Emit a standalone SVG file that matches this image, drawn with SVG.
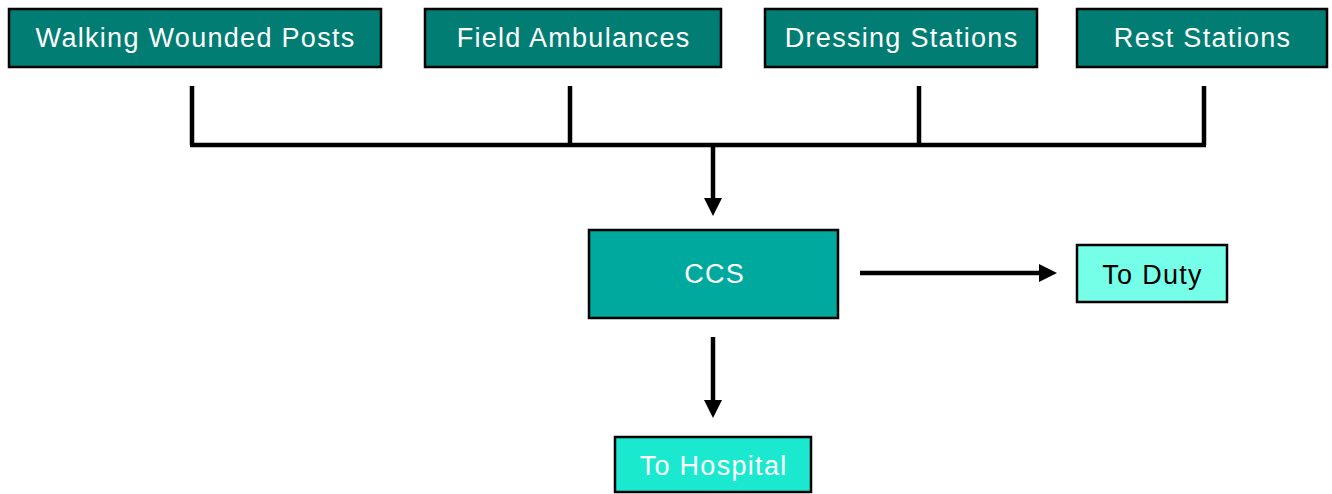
<svg xmlns="http://www.w3.org/2000/svg" width="1332" height="494" viewBox="0 0 1332 494">
<style>
.box{stroke:#000;stroke-width:2.5}
.dark{fill:#017D74}
.t{font-family:"Liberation Sans",Arial,sans-serif;font-size:27px;letter-spacing:1.3px;text-anchor:middle}
.w{fill:#fff}
.k{fill:#000}
.ln{stroke:#000;stroke-width:4.5;fill:none}
</style>
<defs>
<marker id="ah" markerUnits="userSpaceOnUse" markerWidth="18" markerHeight="18" refX="6" refY="9" orient="auto" viewBox="0 0 18 18">
<path d="M0,0 L18,9 L0,18 Z" fill="#000"/>
</marker>
</defs>
<rect width="1332" height="494" fill="#fff"/>
<g id="connectors">
<path class="ln" d="M192,86 V145 M570,86 V145 M919,86 V145 M1204,86 V145 M190,145 H1206"/>
<path class="ln" d="M713,147 V204" marker-end="url(#ah)"/>
<path class="ln" d="M860,273 H1045" marker-end="url(#ah)"/>
<path class="ln" d="M713,337 V406" marker-end="url(#ah)"/>
</g>
<g id="walking-wounded-posts">
<rect class="box dark" x="9" y="9" width="372" height="58"/>
<text class="t w" x="195.6" y="47">Walking Wounded Posts</text>
</g>
<g id="field-ambulances">
<rect class="box dark" x="425" y="9" width="296" height="58"/>
<text class="t w" x="573.6" y="47">Field Ambulances</text>
</g>
<g id="dressing-stations">
<rect class="box dark" x="765" y="9" width="272" height="58"/>
<text class="t w" x="901.6" y="47">Dressing Stations</text>
</g>
<g id="rest-stations">
<rect class="box dark" x="1077" y="9" width="250" height="58"/>
<text class="t w" x="1202.6" y="47">Rest Stations</text>
</g>
<g id="ccs">
<rect class="box" fill="#00A99D" x="589" y="230" width="249" height="88"/>
<text class="t w" x="714.6" y="283">CCS</text>
</g>
<g id="to-duty">
<rect class="box" fill="#75FFE9" x="1077" y="245" width="150" height="57"/>
<text class="t k" x="1152.6" y="284">To Duty</text>
</g>
<g id="to-hospital">
<rect class="box" fill="#1AE9CF" x="615" y="437" width="196" height="55"/>
<text class="t w" x="713.6" y="475">To Hospital</text>
</g>
</svg>
